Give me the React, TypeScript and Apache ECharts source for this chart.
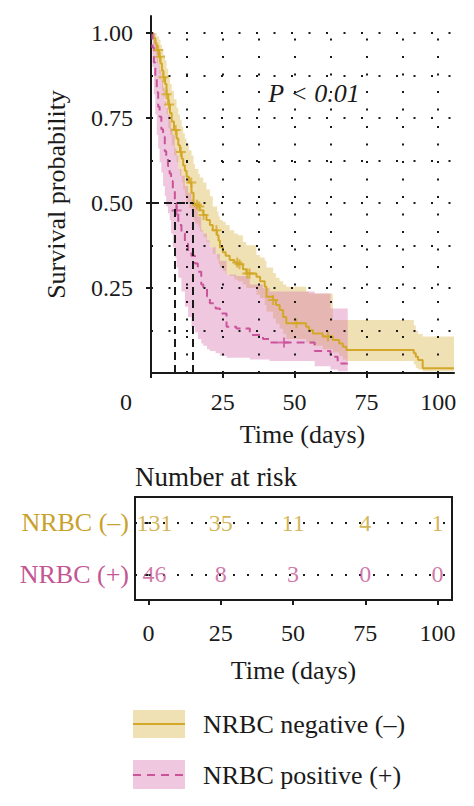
import React, { useEffect, useRef } from 'react';
import * as echarts from 'echarts';

// ---------- data ----------
const negTime = [0, 0.8, 1.5, 2.0, 2.8, 3.3, 3.8, 4.3, 4.9, 5.4, 6.0, 6.6, 7.2, 8.0, 8.9, 9.5, 10.1, 10.7, 11.2, 11.8, 12.4, 13.2, 14.1, 14.8, 15.3, 16.5, 17.0, 18.2, 19.3, 20.5, 21.5, 23.0, 23.5, 24.0, 25.0, 26.0, 27.4, 29.0, 30.3, 32.0, 33.2, 36.7, 38.0, 39.6, 40.2, 42.5, 43.5, 44.8, 46.0, 47.1, 54.0, 55.0, 56.4, 59.8, 63.3, 65.5, 66.8, 68.0, 91.5, 92.2, 93.0, 94.6, 105.5];
const negSurv = [1.0, 0.985, 0.97, 0.95, 0.93, 0.91, 0.89, 0.87, 0.85, 0.82, 0.79, 0.765, 0.74, 0.715, 0.69, 0.67, 0.65, 0.63, 0.61, 0.595, 0.577, 0.56, 0.53, 0.5, 0.495, 0.49, 0.479, 0.465, 0.45, 0.435, 0.42, 0.405, 0.39, 0.37, 0.355, 0.345, 0.332, 0.325, 0.32, 0.305, 0.293, 0.283, 0.27, 0.254, 0.224, 0.215, 0.2, 0.185, 0.165, 0.146, 0.136, 0.126, 0.116, 0.107, 0.097, 0.087, 0.077, 0.068, 0.058, 0.048, 0.038, 0.014, 0.014];
const negUpper = [1.0, 1.0, 1.0, 0.99, 0.98, 0.965, 0.95, 0.935, 0.92, 0.895, 0.87, 0.85, 0.83, 0.805, 0.78, 0.76, 0.745, 0.725, 0.705, 0.69, 0.675, 0.655, 0.64, 0.615, 0.6, 0.585, 0.575, 0.56, 0.54, 0.52, 0.49, 0.475, 0.46, 0.45, 0.445, 0.435, 0.42, 0.41, 0.405, 0.385, 0.376, 0.347, 0.34, 0.33, 0.31, 0.294, 0.28, 0.27, 0.26, 0.254, 0.24, 0.234, 0.234, 0.234, 0.156, 0.156, 0.156, 0.156, 0.14, 0.125, 0.115, 0.107, 0.107];
const negLower = [1.0, 0.96, 0.94, 0.91, 0.88, 0.86, 0.83, 0.81, 0.79, 0.76, 0.72, 0.7, 0.67, 0.64, 0.62, 0.6, 0.58, 0.56, 0.54, 0.52, 0.5, 0.485, 0.47, 0.45, 0.44, 0.43, 0.416, 0.4, 0.385, 0.37, 0.35, 0.335, 0.32, 0.31, 0.3, 0.29, 0.285, 0.275, 0.27, 0.26, 0.25, 0.23, 0.22, 0.2, 0.18, 0.16, 0.145, 0.13, 0.115, 0.1, 0.09, 0.085, 0.08, 0.07, 0.06, 0.05, 0.04, 0.035, 0.025, 0.015, 0.01, 0.005, 0.005];

const posTime = [0, 0.5, 1.0, 1.5, 2.0, 2.5, 3.0, 3.6, 4.2, 4.8, 5.3, 5.9, 6.5, 7.0, 7.6, 8.3, 8.9, 9.5, 10.6, 11.8, 12.9, 14.1, 15.3, 16.3, 17.5, 18.2, 19.5, 20.5, 22.5, 24.0, 26.3, 29.7, 34.4, 39.0, 41.3, 57.0, 62.5, 65.0, 68.5];
const posSurv = [1.0, 0.957, 0.913, 0.87, 0.826, 0.783, 0.754, 0.717, 0.695, 0.652, 0.63, 0.609, 0.587, 0.565, 0.543, 0.5, 0.478, 0.435, 0.411, 0.38, 0.362, 0.345, 0.322, 0.298, 0.26, 0.249, 0.225, 0.205, 0.19, 0.175, 0.136, 0.131, 0.112, 0.1, 0.09, 0.065, 0.048, 0.028, 0.028];
const posUpper = [1.0, 1.0, 1.0, 0.98, 0.95, 0.91, 0.89, 0.86, 0.84, 0.8, 0.78, 0.76, 0.74, 0.72, 0.7, 0.66, 0.64, 0.6, 0.58, 0.55, 0.53, 0.51, 0.49, 0.46, 0.42, 0.41, 0.39, 0.37, 0.35, 0.33, 0.29, 0.285, 0.26, 0.25, 0.24, 0.234, 0.19, 0.19, 0.19];
const posLower = [1.0, 0.9, 0.82, 0.76, 0.7, 0.66, 0.62, 0.59, 0.55, 0.52, 0.49, 0.47, 0.45, 0.41, 0.37, 0.34, 0.31, 0.28, 0.24, 0.195, 0.165, 0.136, 0.12, 0.1, 0.087, 0.08, 0.07, 0.065, 0.058, 0.05, 0.045, 0.045, 0.04, 0.04, 0.035, 0.02, 0.01, 0.005, 0.005];

const negCensor = [2.5, 3.1, 4.3, 5.4, 6.3, 8.6, 10.4, 14.0, 16.0, 16.8, 18.3, 22.8, 30.0, 30.8, 33.5, 34.3, 42.5, 50.6, 61.6];
const posCensor = [8.9, 46.3];

const medianNeg = 14.7;
const medianPos = 8.3;

const xTicks = [0, 25, 50, 75, 100];
const yTicks = [0.25, 0.5, 0.75, 1.0];
const gridX = [12.5, 25, 37.5, 50, 62.5, 75, 87.5, 100];
const gridY = [0.125, 0.25, 0.375, 0.5, 0.625, 0.75, 0.875, 1.0];
const riskGridX = [0, 12.5, 25, 37.5, 50, 62.5, 75, 87.5, 100];

const riskGroups = ['NRBC (–)', 'NRBC (+)'];
const riskTimes = [0, 25, 50, 75, 100];
const riskNeg = [131, 35, 11, 4, 1];
const riskPos = [46, 8, 3, 0, 0];

const legendLabels = ['NRBC negative (–)', 'NRBC positive (+)'];

// ---------- styles ----------
const FONT = 'Liberation Serif';
const YELLOW = '#D3A829';
const PINK = '#CA5399';
const YELLOW_TXT = '#C9A22C';
const PINK_TXT = '#C45593';
const NEG_BAND = 'rgba(222,188,88,0.45)';
const PINK_BAND = 'rgba(214,118,178,0.40)';
const INK = '#1a1a1a';
const dotLine = { type: [2, 15.5], width: 2, color: INK };
const PLUS = 'path://M4,0H6V10H4Z M0,4H10V6H0Z';

const pairs = (t: number[], v: number[]) => t.map((x, i) => [x, v[i]]);
const stepAt = (t: number[], v: number[], x: number) => {
  let val = v[0];
  for (let i = 0; i < t.length; i++) if (t[i] <= x) val = v[i];
  return val;
};

// polygon of a step-shaped confidence band, mapped through the axes with api.coord
const bandSeries = (name: string, t: number[], up: number[], lo: number[], color: string) => ({
  name, type: 'custom', xAxisIndex: 0, yAxisIndex: 0, silent: true, z: 1,
  data: [[0]],
  renderItem: (_params: any, api: any) => {
    const pts: number[][] = [];
    const n = t.length;
    for (let i = 0; i < n - 1; i++) {
      pts.push(api.coord([t[i], up[i]]));
      pts.push(api.coord([t[i + 1], up[i]]));
    }
    for (let i = n - 2; i >= 0; i--) {
      pts.push(api.coord([t[i + 1], lo[i]]));
      pts.push(api.coord([t[i], lo[i]]));
    }
    return { type: 'polygon', shape: { points: pts }, style: { fill: color, stroke: 'none' } };
  },
});

function riskData(group: string) {
  return riskTimes.map((t, i) => ({
    value: [t, group],
    label: i === 0 ? { offset: [6, 0] } : undefined,
  }));
}

function buildOption(): any {
  const mainGridLines = [
    ...gridX.map((x) => [{ coord: [x, 0] }, { coord: [x, 1.0] }]),
    ...gridY.map((y) => [{ coord: [0, y] }, { coord: [105.5, y] }]),
  ];
  const medianLines = [
    [{ coord: [0, 0.5] }, { coord: [medianNeg, 0.5] }],
    [{ coord: [medianPos, 0] }, { coord: [medianPos, 0.5] }],
    [{ coord: [medianNeg, 0] }, { coord: [medianNeg, 0.5] }],
  ];
  const riskLines = [
    ...riskGridX.map((x) => [{ coord: [x, -0.5] }, { coord: [x, 1.5] }]),
    ...[0, 1].map((r) => [{ coord: [-4.7, r] }, { coord: [105, r] }]),
  ];

  const axisLabelBase = { fontFamily: FONT, fontSize: 24, color: INK };

  return {
    animation: false,
    textStyle: { fontFamily: FONT },
    grid: [
      { left: 151, top: 16, width: 303, height: 357, show: false, outerBoundsMode: 'none' },
      { left: 135, top: 497, width: 317, height: 103, show: true, borderColor: INK, borderWidth: 2, backgroundColor: 'transparent', outerBoundsMode: 'none' },
    ],
    xAxis: [
      {
        type: 'value', gridIndex: 0, min: 0, max: 105.5,
        axisLine: { show: true, onZero: false, lineStyle: { color: INK, width: 2 } },
        axisTick: { show: true, length: 5, lineStyle: { color: INK, width: 2 }, customValues: xTicks },
        axisLabel: {
          ...axisLabelBase, margin: 17, customValues: xTicks,
          formatter: (v: number) => (v === 0 ? '{z|0}' : String(v)),
          rich: { z: { ...axisLabelBase, padding: [0, 50, 0, 0] } },
        },
        splitLine: { show: false },
        name: 'Time (days)', nameLocation: 'middle', nameGap: 48,
        nameTextStyle: { fontFamily: FONT, fontSize: 26, color: INK },
      },
      {
        type: 'value', gridIndex: 1, min: -4.7, max: 105,
        axisLine: { show: false },
        axisTick: { show: true, length: 5, lineStyle: { color: INK, width: 2 }, customValues: xTicks },
        axisLabel: { ...axisLabelBase, margin: 21, customValues: xTicks },
        splitLine: { show: false },
        name: 'Time (days)', nameLocation: 'middle', nameGap: 57,
        nameTextStyle: { fontFamily: FONT, fontSize: 26, color: INK },
      },
    ],
    yAxis: [
      {
        type: 'value', gridIndex: 0, min: 0, max: 1.05,
        axisLine: { show: true, onZero: false, lineStyle: { color: INK, width: 2 } },
        axisTick: { show: true, length: 5, lineStyle: { color: INK, width: 2 }, customValues: yTicks },
        axisLabel: { ...axisLabelBase, margin: 18, customValues: yTicks, formatter: (v: number) => v.toFixed(2) },
        splitLine: { show: false },
        name: 'Survival probability', nameLocation: 'middle', nameGap: 82,
        nameTextStyle: { fontFamily: FONT, fontSize: 26, color: INK },
      },
      {
        type: 'category', gridIndex: 1, inverse: true, data: riskGroups,
        axisLine: { show: false },
        axisTick: { show: true, alignWithLabel: true, length: 4, lineStyle: { color: INK, width: 2 } },
        axisLabel: {
          margin: 6,
          formatter: (v: string) => (v === riskGroups[0] ? `{n|${v}}` : `{p|${v}}`),
          rich: {
            n: { fontFamily: FONT, fontSize: 26, color: YELLOW_TXT },
            p: { fontFamily: FONT, fontSize: 26, color: PINK_TXT },
          },
        },
        splitLine: { show: false },
      },
    ],
    series: [
      bandSeries('negBand', negTime, negUpper, negLower, NEG_BAND),
      bandSeries('posBand', posTime, posUpper, posLower, PINK_BAND),
      {
        name: 'gridDots', type: 'line', xAxisIndex: 0, yAxisIndex: 0, data: [], z: 2, silent: true,
        markLine: { silent: true, symbol: ['none', 'none'], label: { show: false }, lineStyle: dotLine, emphasis: { disabled: true }, data: mainGridLines },
      },
      {
        name: 'NRBC negative (–)', type: 'line', step: 'end', symbol: 'none', z: 3,
        xAxisIndex: 0, yAxisIndex: 0,
        lineStyle: { color: YELLOW, width: 2 },
        data: pairs(negTime, negSurv),
      },
      {
        name: 'NRBC positive (+)', type: 'line', step: 'end', symbol: 'none', z: 3,
        xAxisIndex: 0, yAxisIndex: 0,
        lineStyle: { color: PINK, width: 2, type: [8, 5] },
        data: pairs(posTime, posSurv),
      },
      {
        name: 'negCensor', type: 'scatter', symbol: PLUS, symbolSize: 10, z: 4,
        xAxisIndex: 0, yAxisIndex: 0, itemStyle: { color: YELLOW },
        data: negCensor.map((t) => [t, stepAt(negTime, negSurv, t)]),
      },
      {
        name: 'posCensor', type: 'scatter', symbol: PLUS, symbolSize: 10, z: 4,
        xAxisIndex: 0, yAxisIndex: 0, itemStyle: { color: PINK },
        data: posCensor.map((t) => [t, stepAt(posTime, posSurv, t)]),
      },
      {
        name: 'median', type: 'line', xAxisIndex: 0, yAxisIndex: 0, data: [], z: 5, silent: true,
        markLine: { silent: true, symbol: ['none', 'none'], label: { show: false }, lineStyle: { type: [8, 5], width: 2, color: INK }, emphasis: { disabled: true }, data: medianLines },
      },
      {
        name: 'riskDots', type: 'line', xAxisIndex: 1, yAxisIndex: 1, data: [], z: 2, silent: true,
        markLine: { silent: true, symbol: ['none', 'none'], label: { show: false }, lineStyle: { ...dotLine, type: [2, 12] }, emphasis: { disabled: true }, data: riskLines },
      },
      {
        name: 'riskNeg', type: 'scatter', xAxisIndex: 1, yAxisIndex: 1, symbolSize: 1, z: 5,
        itemStyle: { color: 'rgba(0,0,0,0)' },
        label: { show: true, position: 'inside', fontFamily: FONT, fontSize: 24, color: YELLOW_TXT, formatter: (p: any) => String(riskNeg[p.dataIndex]) },
        data: riskData(riskGroups[0]),
      },
      {
        name: 'riskPos', type: 'scatter', xAxisIndex: 1, yAxisIndex: 1, symbolSize: 1, z: 5,
        itemStyle: { color: 'rgba(0,0,0,0)' },
        label: { show: true, position: 'inside', fontFamily: FONT, fontSize: 24, color: PINK_TXT, formatter: (p: any) => String(riskPos[p.dataIndex]) },
        data: riskData(riskGroups[1]),
      },
    ],
    graphic: [
      {
        type: 'text', x: 314, y: 93,
        style: { text: 'P < 0.01', fontFamily: FONT, fontSize: 26, fontStyle: 'italic', fill: INK, align: 'center', verticalAlign: 'middle' },
      },
      {
        type: 'text', x: 135, y: 477,
        style: { text: 'Number at risk', fontFamily: FONT, fontSize: 27, fill: INK, align: 'left', verticalAlign: 'middle' },
      },
      { type: 'rect', shape: { x: 133, y: 710, width: 52, height: 28 }, style: { fill: NEG_BAND } },
      { type: 'line', shape: { x1: 133, y1: 724, x2: 185, y2: 724 }, style: { stroke: YELLOW, lineWidth: 2 } },
      {
        type: 'text', x: 203, y: 724,
        style: { text: legendLabels[0], fontFamily: FONT, fontSize: 26, fill: INK, align: 'left', verticalAlign: 'middle' },
      },
      { type: 'rect', shape: { x: 133, y: 760, width: 52, height: 29 }, style: { fill: PINK_BAND } },
      { type: 'line', shape: { x1: 133, y1: 775, x2: 185, y2: 775 }, style: { stroke: PINK, lineWidth: 2, lineDash: [8, 6] } },
      {
        type: 'text', x: 203, y: 775,
        style: { text: legendLabels[1], fontFamily: FONT, fontSize: 26, fill: INK, align: 'left', verticalAlign: 'middle' },
      },
    ],
  };
}

export default function App() {
  const ref = useRef<HTMLDivElement>(null);
  useEffect(() => {
    if (!ref.current) return;
    const chart = echarts.init(ref.current, null, { renderer: 'svg' });
    chart.setOption(buildOption());
    return () => chart.dispose();
  }, []);
  return <div ref={ref} style={{ position: 'absolute', left: 0, top: 0, width: 474, height: 806 }} />;
}
